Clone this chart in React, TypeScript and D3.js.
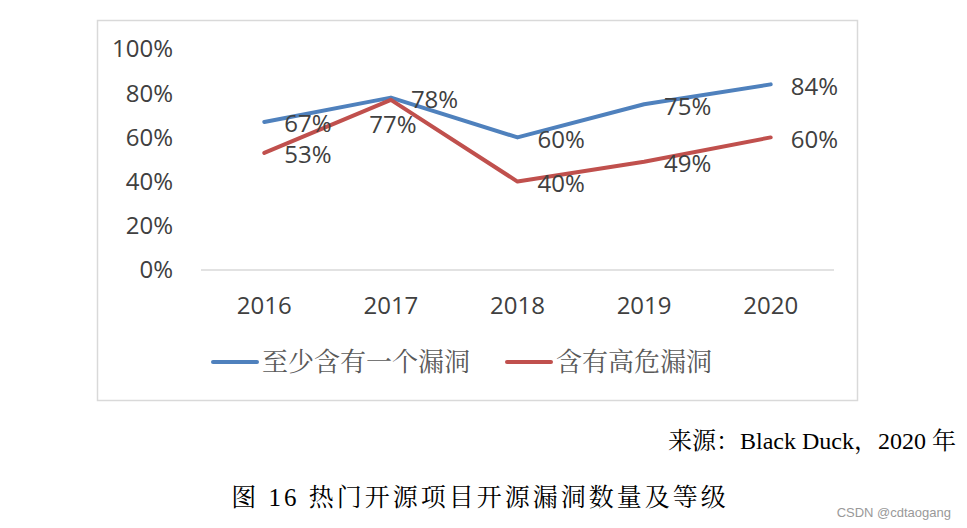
import React, { useRef, useEffect } from "react"
import * as d3 from "d3"

const years = ["2016", "2017", "2018", "2019", "2020"]
const atLeastOne = [67, 78, 60, 75, 84]
const highRisk = [53, 77, 40, 49, 60]
const yTicks = [0, 20, 40, 60, 80, 100]
const seriesNames = ["至少含有一个漏洞", "含有高危漏洞"]
const seriesColors = ["#4f81bd", "#c0504d"]
// label placement: Excel puts most of them on the right, one below
const labelPos = [
	["right", "right", "right", "right", "right"],
	["right", "below", "right", "right", "right"],
]

const App: React.FunctionComponent = () => {
	const svgRef = useRef<any>()

	useEffect(() => {
		const svg = d3.select(svgRef.current)
		svg.selectAll("*").remove()

		const sans = "'Open Sans', 'Noto Sans', sans-serif"
		const serif = "'Noto Serif CJK SC', 'Noto Sans CJK SC', serif"

		// chart frame
		svg.append("rect")
			.attr("x", 97.5).attr("y", 20.5)
			.attr("width", 760).attr("height", 380)
			.attr("fill", "#fff")
			.attr("stroke", "#d9d9d9")
			.attr("stroke-width", 1.5)

		const xScale = d3.scaleBand().domain(years).range([201, 834])
		const yScale = d3.scaleLinear().domain([0, 100]).range([270, 49])

		// y axis labels
		svg.append("g")
			.selectAll("text")
			.data(yTicks)
			.join("text")
			.attr("x", 173)
			.attr("y", (d) => yScale(d))
			.attr("dy", "0.35em")
			.attr("text-anchor", "end")
			.attr("font-family", sans)
			.attr("font-size", 24)
			.attr("fill", "#404040")
			.text((d) => d + "%")

		// baseline
		svg.append("line")
			.attr("x1", 201).attr("x2", 834)
			.attr("y1", yScale(0)).attr("y2", yScale(0))
			.attr("stroke", "#d9d9d9")
			.attr("stroke-width", 1.5)

		// x axis labels
		svg.append("g")
			.selectAll("text")
			.data(years)
			.join("text")
			.attr("x", (d) => xScale(d)! + xScale.bandwidth() / 2)
			.attr("y", 306)
			.attr("dy", "0.35em")
			.attr("text-anchor", "middle")
			.attr("font-family", sans)
			.attr("font-size", 24)
			.attr("fill", "#404040")
			.text((d) => d)

		const cx = (i: number) => xScale(years[i])! + xScale.bandwidth() / 2
		const line = d3
			.line<number>()
			.x((d, i) => cx(i))
			.y((d) => yScale(d))

		const series = [atLeastOne, highRisk]
		series.forEach((vals, s) => {
			svg.append("path")
				.attr("d", line(vals))
				.attr("fill", "none")
				.attr("stroke", seriesColors[s])
				.attr("stroke-width", 4)
				.attr("stroke-linecap", "round")
				.attr("stroke-linejoin", "round")
		})

		series.forEach((vals, s) => {
			svg.append("g")
				.selectAll("text")
				.data(vals)
				.join("text")
				.attr("x", (d, i) => (labelPos[s][i] == "below" ? cx(i) + 2 : cx(i) + 20))
				.attr("y", (d, i) => (labelPos[s][i] == "below" ? yScale(d) + 25 : yScale(d) + 2))
				.attr("dy", "0.35em")
				.attr("text-anchor", (d, i) => (labelPos[s][i] == "below" ? "middle" : "start"))
				.attr("font-family", sans)
				.attr("font-size", 24)
				.attr("fill", "#404040")
				.text((d) => d + "%")
		})

		// legend
		const legendX = [213, 507]
		seriesNames.forEach((name, s) => {
			svg.append("line")
				.attr("x1", legendX[s]).attr("x2", legendX[s] + 44)
				.attr("y1", 362).attr("y2", 362)
				.attr("stroke", seriesColors[s])
				.attr("stroke-width", 4)
				.attr("stroke-linecap", "round")
			svg.append("text")
				.attr("x", legendX[s] + 49)
				.attr("y", 362)
				.attr("dy", "0.36em")
				.attr("font-family", serif)
				.attr("font-size", 26)
				.attr("fill", "#595959")
				.text(name)
		})

		// source + caption
		svg.append("text")
			.attr("x", 956).attr("y", 441)
			.attr("dy", "0.35em")
			.attr("text-anchor", "end")
			.attr("font-family", "'Liberation Serif', " + serif)
			.attr("font-size", 24)
			.attr("fill", "#000")
			.text("来源：Black Duck，2020 年")

		svg.append("text")
			.attr("x", 480).attr("y", 497)
			.attr("dy", "0.35em")
			.attr("text-anchor", "middle")
			.attr("font-family", "'Liberation Serif', " + serif)
			.attr("font-size", 25)
			.attr("letter-spacing", 3)
			.attr("fill", "#000")
			.text("图 16 热门开源项目开源漏洞数量及等级")

		svg.append("text")
			.attr("x", 951).attr("y", 512)
			.attr("dy", "0.35em")
			.attr("text-anchor", "end")
			.attr("font-family", "Arial, 'Liberation Sans', sans-serif")
			.attr("font-size", 13)
			.attr("fill", "#999")
			.text("CSDN @cdtaogang")
	}, [])

	return (
		<div style={{ position: "absolute", top: 0, left: 0, background: "#fff" }}>
			<svg ref={svgRef} width={967} height={528} style={{ display: "block" }}></svg>
		</div>
	)
}

export default App
